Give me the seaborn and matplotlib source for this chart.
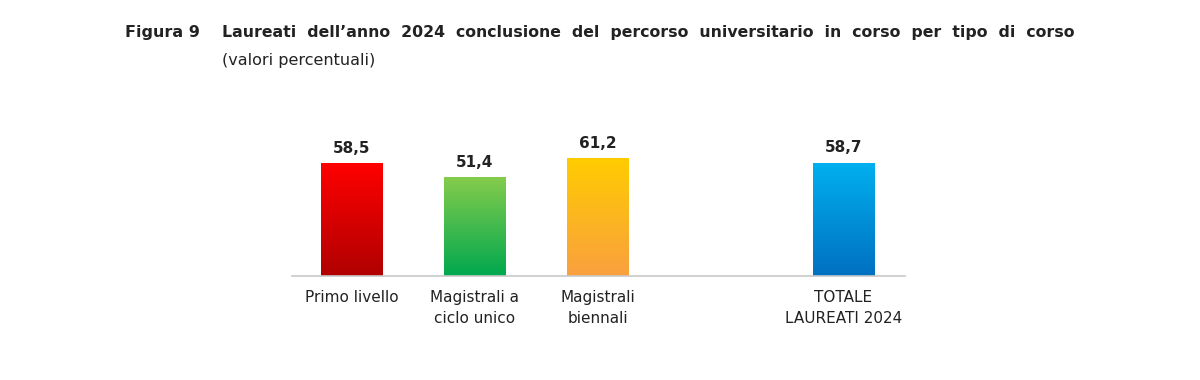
import numpy as np
import pandas as pd
import matplotlib
matplotlib.use("Agg")
import matplotlib.pyplot as plt
import seaborn as sns
from matplotlib.colors import LinearSegmentedColormap

# dati
categorie = ["Primo livello", "Magistrali a\nciclo unico", "Magistrali\nbiennali", "TOTALE\nLAUREATI 2024"]
valori = [58.5, 51.4, 61.2, 58.7]
etichette = ["58,5", "51,4", "61,2", "58,7"]
# colore in alto / in basso per ogni barra
colori_alto = ["#ff0000", "#86cc4c", "#ffcc00", "#00b0f0"]
colori_basso = ["#b00000", "#00a84f", "#f9a03f", "#0070c0"]

ordine = categorie[:3] + [""] + categorie[3:]

df = pd.DataFrame({"corso": categorie, "valore": valori})

sns.set_theme(style="white")
plt.rcParams["font.family"] = ["DejaVu Sans"]

fig = plt.figure(figsize=(12, 3.8), dpi=100)
ax = fig.add_axes([0.243, 0.274, 0.511, 0.355])

sns.barplot(data=df, x="corso", y="valore", order=ordine, width=0.5,
            color="white", edgecolor="none", ax=ax)

# sfumatura verticale dentro ogni barra
bars = [p for p in ax.patches if p.get_height() > 0]
bars = sorted(bars, key=lambda p: p.get_x())
for bar, c1, c2, lab in zip(bars, colori_alto, colori_basso, etichette):
    x0, w, h = bar.get_x(), bar.get_width(), bar.get_height()
    cmap = LinearSegmentedColormap.from_list("g", [c2, c1])
    grad = np.linspace(0, 1, 256).reshape(-1, 1)
    im = ax.imshow(grad, cmap=cmap, aspect="auto", origin="lower",
                   extent=[x0, x0 + w, 0, h], zorder=bar.get_zorder() + 0.1)
    im.set_clip_path(bar)
    ax.text(x0 + w / 2, h + 3.8, lab, ha="center", va="bottom",
            fontsize=11, fontweight="bold", color="#222222")

ax.set_xlim(-0.49, 4.5)
ax.set_ylim(0, 70)

sns.despine(ax=ax, left=True)
ax.spines["bottom"].set_color("#c8c8c8")
ax.spines["bottom"].set_linewidth(1.2)
ax.set_yticks([])
ax.set_xlabel("")
ax.set_ylabel("")
ax.tick_params(axis="x", length=0, pad=10, labelsize=11, labelcolor="#222222")
for t in ax.get_xticklabels():
    t.set_linespacing(1.55)

fig.text(125 / 1200, 1 - 33 / 380, "Figura 9", fontsize=11.5, fontweight="bold",
         color="#222222", va="center")
titolo = "Laureati dell\u2019anno 2024 conclusione del percorso universitario in corso per tipo di corso"
fig.text(222 / 1200, 1 - 33 / 380, titolo.replace(" ", "  "),
         fontsize=11.3, fontweight="bold", color="#222222", va="center")
fig.text(222 / 1200, 1 - 60 / 380, "(valori percentuali)", fontsize=11.5,
         color="#222222", va="center")

fig.savefig("out.png", dpi=100, facecolor="white")
